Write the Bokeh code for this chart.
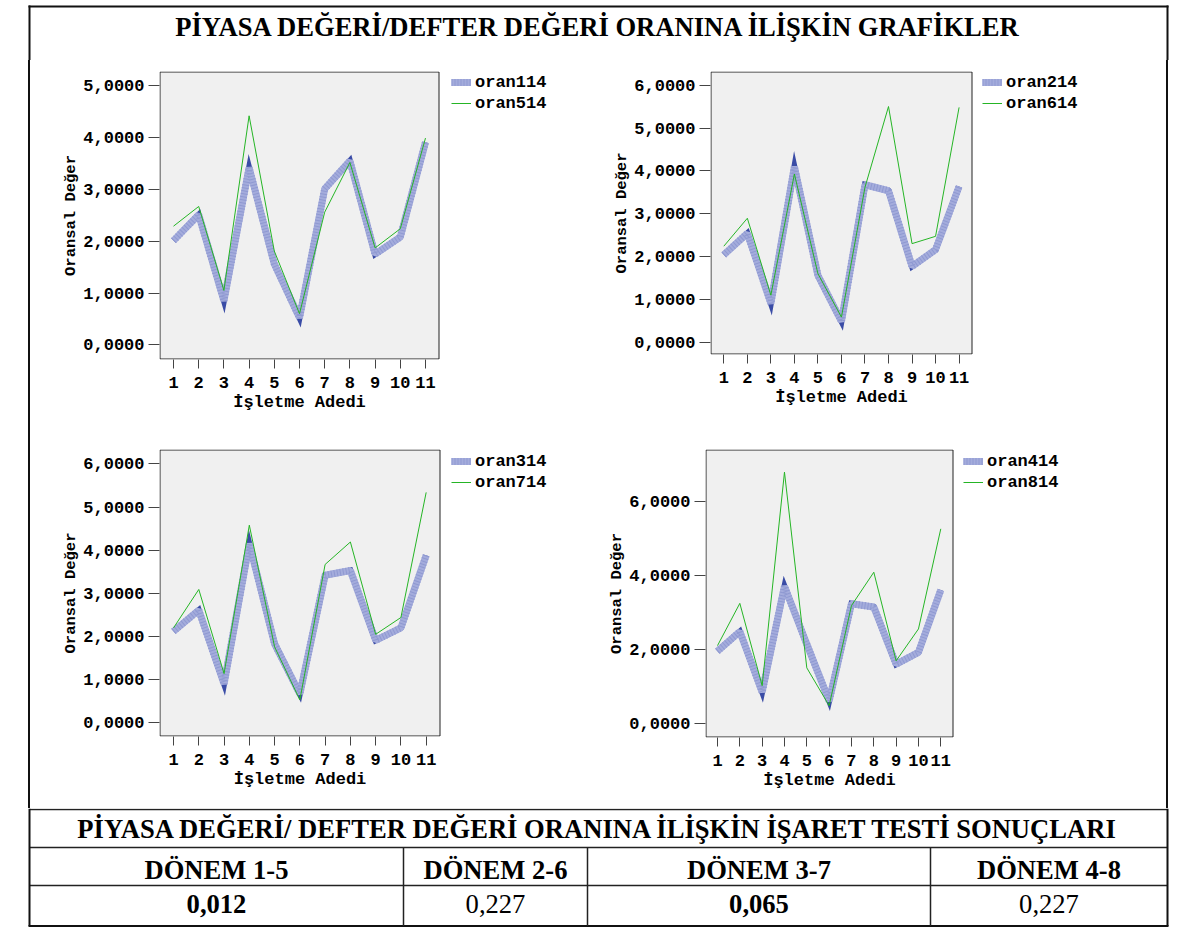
from bokeh.plotting import figure
from bokeh.layouts import row, column
from bokeh.models import (Range1d, FixedTicker, Legend, LegendItem, ColumnDataSource,
                          BoxAnnotation, Title, Spacer)
from bokeh.core.properties import value
from bokeh.embed import file_html
from bokeh.resources import INLINE

# ---------------- data ----------------
firms = [1, 2, 3, 4, 5, 6, 7, 8, 9, 10, 11]

oran114 = [2.01, 2.51, 0.85, 3.42, 1.56, 0.52, 3.01, 3.55, 1.75, 2.08, 3.91]
oran514 = [2.29, 2.67, 1.05, 4.42, 1.81, 0.60, 2.56, 3.52, 1.87, 2.24, 3.99]

oran214 = [2.05, 2.55, 0.92, 4.10, 1.57, 0.50, 3.68, 3.54, 1.78, 2.17, 3.64]
oran614 = [2.25, 2.90, 1.11, 3.93, 1.61, 0.60, 3.62, 5.50, 2.31, 2.48, 5.48]

oran314 = [2.12, 2.61, 0.90, 4.15, 1.83, 0.67, 3.42, 3.53, 1.91, 2.20, 3.88]
oran714 = [2.20, 3.09, 1.14, 4.58, 1.76, 0.53, 3.67, 4.19, 2.05, 2.44, 5.34]

oran414 = [1.95, 2.48, 0.85, 3.70, 2.14, 0.61, 3.23, 3.14, 1.60, 1.92, 3.60]
oran814 = [2.10, 3.24, 1.02, 6.78, 1.50, 0.48, 3.18, 4.08, 1.69, 2.55, 5.25]

yticks_1 = [0, 1, 2, 3, 4, 5]
yticks_2 = [0, 1, 2, 3, 4, 5, 6]
yticks_3 = [0, 1, 2, 3, 4, 5, 6]
yticks_4 = [0, 2, 4, 6]

x_label = "İşletme Adedi"
y_label = "Oransal Değer"

title_text = "PİYASA DEĞERİ/DEFTER DEĞERİ ORANINA İLİŞKİN GRAFİKLER"
table_title = "PİYASA DEĞERİ/ DEFTER DEĞERİ ORANINA İLİŞKİN İŞARET TESTİ SONUÇLARI"
periods = ["DÖNEM 1-5", "DÖNEM 2-6", "DÖNEM 3-7", "DÖNEM 4-8"]
p_values = ["0,012", "0,227", "0,065", "0,227"]
p_bold = [True, False, True, False]

# ---------------- styles ----------------
MONO = "Liberation Mono"
SERIF = "Liberation Serif"
MONO_PX = 17
BLUE_LIGHT = "#a4acdc"
BLUE_STRIPE = "#8f99d1"
BLUE_DARK = "#3a4ca6"
GREEN = "#25b525"
FRAME_COL = "#111111"
SERIF_SIZE = "26.6px"

TOTAL_W = 1185
BORDER_L, BORDER_R = 29, 1167
EXT = 130  # room on the right of each plot area for its legend


def canvas(w, h, x0, y0):
    p = figure(width=w, height=h, x_range=Range1d(x0, x0 + w),
               y_range=Range1d(y0 + h, y0), output_backend="svg",
               toolbar_location=None, x_axis_location=None, y_axis_location=None,
               min_border=0, min_border_left=0, min_border_right=0,
               min_border_top=0, min_border_bottom=0)
    p.grid.visible = False
    p.outline_line_color = None
    p.background_fill_color = "white"
    p.border_fill_color = "white"
    return p


def fmt_tick(t):
    return ("%.4f" % t).replace(".", ",")


def chart(fig_w, fig_h, frame, xr, yr, yticks, s1, n1, s2, n2, leg):
    left, top, fw, fh = frame
    ux = (xr[1] - xr[0]) / fw
    uy = (yr[1] - yr[0]) / fh
    p = figure(frame_width=fw + EXT, frame_height=fh,
               x_range=Range1d(xr[0], xr[1] + EXT * ux), y_range=Range1d(*yr),
               output_backend="svg", toolbar_location=None,
               min_border_left=left, min_border_top=top,
               min_border_right=fig_w - left - fw - EXT,
               min_border_bottom=fig_h - top - fh)
    p.background_fill_color = "white"
    p.border_fill_color = "white"
    p.outline_line_color = None
    p.grid.visible = False

    p.add_layout(BoxAnnotation(left=xr[0] + 0.5 * ux, right=xr[1] - 0.5 * ux,
                               bottom=yr[0] + 0.5 * uy, top=yr[1] - 0.5 * uy,
                               fill_color="#f0f0f0", fill_alpha=1.0,
                               line_color="#222222", line_width=1, line_alpha=1.0,
                               level="underlay"))

    src = ColumnDataSource(dict(x=firms, a=s1, b=s2))
    p.line("x", "a", source=src, line_color=BLUE_DARK, line_width=6, line_join="miter")
    r1 = p.line("x", "a", source=src, line_color=BLUE_LIGHT, line_width=7, line_join="bevel")
    r2 = p.line("x", "a", source=src, line_color=BLUE_STRIPE, line_width=7,
                line_join="bevel", line_dash="1 2")
    r3 = p.line("x", "b", source=src, line_color=GREEN, line_width=1)

    xa = p.xaxis[0]
    xa.ticker = FixedTicker(ticks=firms)
    ya = p.yaxis[0]
    ya.ticker = FixedTicker(ticks=yticks)
    ya.major_label_overrides = {t: fmt_tick(t) for t in yticks}
    ya.axis_label = y_label
    for ax in (xa, ya):
        ax.axis_line_color = None
        ax.major_tick_in = 0
        ax.minor_tick_in = 0
        ax.minor_tick_out = 0
        ax.major_tick_line_color = "#444444"
        ax.major_label_text_font = MONO
        ax.major_label_text_font_size = "%dpx" % MONO_PX
        ax.major_label_text_font_style = "bold"
        ax.major_label_text_color = "black"
        ax.axis_label_text_font = MONO
        ax.axis_label_text_font_style = "bold"
        ax.axis_label_text_color = "black"
    xa.major_tick_out = 9
    ya.major_tick_out = 11
    xa.major_label_standoff = 8
    ya.major_label_standoff = 4
    ya.axis_label_text_font_size = "15.5px"
    ya.axis_label_standoff = 0

    # x-axis title centred under the grey plot area (monospace: width = n * 0.6em)
    label_w = len(x_label) * 0.6 * MONO_PX
    p.add_layout(Title(text=x_label, align="left", offset=(fw - label_w) / 2, standoff=0,
                       text_font=MONO, text_font_size="%dpx" % MONO_PX,
                       text_font_style="bold", text_color="black"), "below")

    gap, vy = leg
    legend = Legend(items=[LegendItem(label=n1, renderers=[r1, r2]),
                           LegendItem(label=n2, renderers=[r3])],
                    location=(fw + gap, vy), padding=0, margin=0, spacing=1,
                    glyph_width=20, glyph_height=20, label_height=20,
                    label_standoff=4, border_line_color=None,
                    background_fill_alpha=0,
                    label_text_font=MONO, label_text_font_size="%dpx" % MONO_PX,
                    label_text_font_style="bold", label_text_color="black")
    p.add_layout(legend)
    return p


# ---------------- header ----------------
HEADER_H = 60
header = canvas(TOTAL_W, HEADER_H, 0, 0)
header.line([BORDER_L - 1, BORDER_R + 1], [6, 6], line_color=FRAME_COL, line_width=2)
header.line([BORDER_L, BORDER_L], [5, HEADER_H], line_color=FRAME_COL, line_width=2)
header.line([BORDER_R, BORDER_R], [5, HEADER_H], line_color=FRAME_COL, line_width=2)
header.text(x=[(BORDER_L + BORDER_R) / 2], y=[26], text=[title_text],
            text_font=value(SERIF), text_font_size=SERIF_SIZE, text_font_style="bold",
            text_align="center", text_baseline="alphabetic", text_color="black")

# ---------------- charts ----------------
ROW1_H = 365
ROW2_H = 383
STRIP_L_W = 30
CHART_W_L = 567
CHART_W_R = 569
STRIP_R_W = TOTAL_W - STRIP_L_W - CHART_W_L - CHART_W_R  # 19

c1 = chart(CHART_W_L, ROW1_H, (129, 11, 280, 288), (0.444, 11.556), (-0.283, 5.275),
           yticks_1, oran114, "oran114", oran514, "oran514", (12, 246))
c2 = chart(CHART_W_R, ROW1_H, (113, 11, 262, 283), (0.434, 11.57), (-0.27, 6.315),
           yticks_2, oran214, "oran214", oran614, "oran614", (10, 241))
c3 = chart(CHART_W_L, ROW2_H, (129, 24, 281, 287), (0.445, 11.567), (-0.318, 6.334),
           yticks_3, oran314, "oran314", oran714, "oran714", (11, 244))
c4 = chart(CHART_W_R, ROW2_H, (108, 24, 248, 288), (0.463, 11.569), (-0.378, 7.39),
           yticks_4, oran414, "oran414", oran814, "oran814", (10, 245))


def strips(h):
    ls = Spacer(width=STRIP_L_W, height=h,
                styles={"border-right": "2px solid #111111", "box-sizing": "border-box"})
    rs = Spacer(width=STRIP_R_W, height=h,
                styles={"border-left": "2px solid #111111", "box-sizing": "border-box"})
    return ls, rs


l1, r1s = strips(ROW1_H)
l2, r2s = strips(ROW2_H)

# ---------------- table ----------------
TABLE_Y0 = HEADER_H + ROW1_H + ROW2_H  # 808
TABLE_H = 927 - TABLE_Y0
table = canvas(TOTAL_W, TABLE_H, 0, TABLE_Y0)
row_edges = [809, 847, 885, 925.5]
col_edges = [BORDER_L, 403, 587, 930, BORDER_R]
for y in row_edges[:-1]:
    table.line([BORDER_L, BORDER_R], [y, y], line_color="#222222", line_width=1.5)
table.line([BORDER_L - 1, BORDER_R + 1], [row_edges[-1], row_edges[-1]], line_color=FRAME_COL, line_width=2)
table.line([BORDER_L, BORDER_L], [TABLE_Y0, row_edges[-1]], line_color=FRAME_COL, line_width=2)
table.line([BORDER_R, BORDER_R], [TABLE_Y0, row_edges[-1]], line_color=FRAME_COL, line_width=2)
for xe in col_edges[1:-1]:
    table.line([xe, xe], [row_edges[1], row_edges[-1]], line_color="#222222", line_width=1.5)

table.text(x=[(BORDER_L + BORDER_R) / 2], y=[828], text=[table_title],
           text_font=value(SERIF), text_font_size=SERIF_SIZE, text_font_style="bold",
           text_align="center", text_baseline="alphabetic", text_color="black")
centers = [(col_edges[i] + col_edges[i + 1]) / 2 for i in range(len(periods))]
table.text(x=centers, y=[869] * len(periods), text=periods,
           text_font=value(SERIF), text_font_size=SERIF_SIZE, text_font_style="bold",
           text_align="center", text_baseline="alphabetic", text_color="black")
bold_x = [c for c, b in zip(centers, p_bold) if b]
bold_t = [v for v, b in zip(p_values, p_bold) if b]
norm_x = [c for c, b in zip(centers, p_bold) if not b]
norm_t = [v for v, b in zip(p_values, p_bold) if not b]
table.text(x=bold_x, y=[903] * len(bold_x), text=bold_t,
           text_font=value(SERIF), text_font_size=SERIF_SIZE, text_font_style="bold",
           text_align="center", text_baseline="alphabetic", text_color="black")
table.text(x=norm_x, y=[903] * len(norm_x), text=norm_t,
           text_font=value(SERIF), text_font_size=SERIF_SIZE, text_font_style="normal",
           text_align="center", text_baseline="alphabetic", text_color="black")

layout = column(header,
                row(l1, c1, c2, r1s),
                row(l2, c3, c4, r2s),
                table)

open("out.html", "w").write(file_html(layout, INLINE))
